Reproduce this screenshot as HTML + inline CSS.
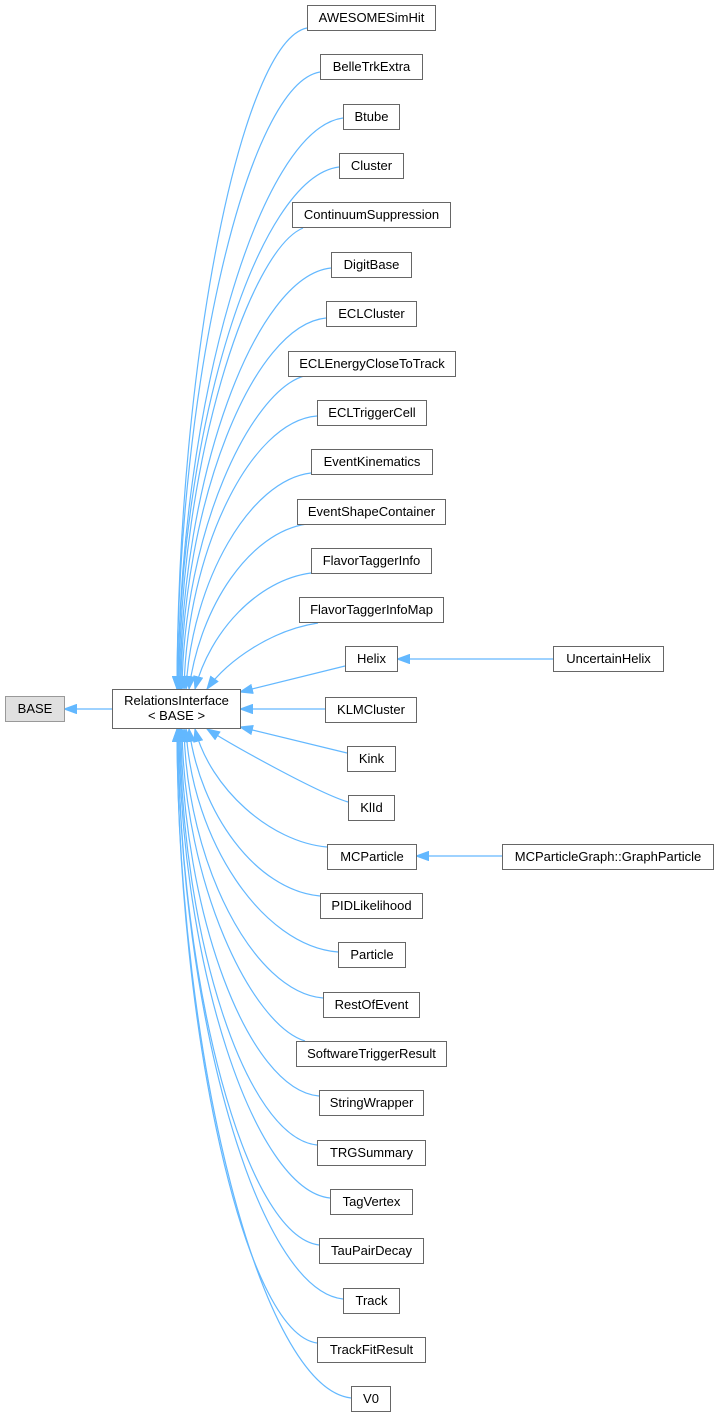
<!DOCTYPE html>
<html>
<head>
<meta charset="utf-8">
<style>
  html, body { margin: 0; padding: 0; background: #ffffff; }
  svg { display: block; }
  text { font-family: "Liberation Sans", Arial, Helvetica, sans-serif; font-size: 13px; fill: #000; }
</style>
</head>
<body>
<svg width="719" height="1417" viewBox="0 0 719 1417" xmlns="http://www.w3.org/2000/svg">
  <defs>
    <marker id="ah" markerUnits="userSpaceOnUse" markerWidth="14" markerHeight="10" viewBox="0 0 14 10" refX="13" refY="5" orient="auto">
      <path d="M0.5,0.5 L13,5 L0.5,9.5 z" fill="#63b8ff" stroke="#63b8ff" stroke-width="1"/>
    </marker>
  </defs>

  <g fill="none" stroke="#63b8ff" stroke-width="1.2" marker-end="url(#ah)">
    <!-- base -->
    <path d="M112,709 L64,709"/>
    <!-- second level -->
    <path d="M553,659 L397,659"/>
    <path d="M502,856 L416,856"/>
    <!-- straight-ish edges -->
    <path d="M345,666 L240,692"/>
    <path d="M325,709 L240,709"/>
    <path d="M347,753 L240,727"/>
    <!-- top curves -->
    <path d="M307,28 C242,41 178,358 177,689"/>
    <path d="M320,72 C248,84 178,380 177,689"/>
    <path d="M343,118 C260,129 179,403 178,689"/>
    <path d="M339,167 C258,177 179,428 178,689"/>
    <path d="M303,228 C250,250 180,458 179,689"/>
    <path d="M331,268 C255,276 181,478 180,689"/>
    <path d="M326,318 C253,325 182,503 181,689"/>
    <path d="M304,376 C250,392 184,532 182,689"/>
    <path d="M317,416 C250,421 187,552 184,689"/>
    <path d="M311,473 C250,480 192,581 186,689"/>
    <path d="M307,524 C250,532 200,606 189,689"/>
    <path d="M311,573 C258,580 210,631 195,689"/>
    <path d="M318,623 C272,630 228,660 207,689"/>
    <!-- bottom curves -->
    <path d="M348,802 C318,793 232,745 207,729"/>
    <path d="M327,847 C270,842 210,788 195,729"/>
    <path d="M320,896 C255,890 200,812 189,729"/>
    <path d="M338,952 C262,946 192,840 186,729"/>
    <path d="M323,998 C253,992 187,863 184,729"/>
    <path d="M305,1041 C252,1025 184,885 182,729"/>
    <path d="M319,1096 C248,1090 182,912 181,729"/>
    <path d="M317,1145 C246,1138 181,937 180,729"/>
    <path d="M330,1198 C254,1190 180,963 179,729"/>
    <path d="M319,1245 C246,1236 179,987 178,729"/>
    <path d="M343,1299 C258,1290 179,1014 178,729"/>
    <path d="M317,1343 C245,1333 178,1036 177,729"/>
    <path d="M351,1398 C262,1388 178,1063 177,729"/>
  </g>

  <!-- BASE -->
  <rect x="5.5" y="696.5" width="59" height="25" fill="#e0e0e0" stroke="#999999" stroke-width="1"/>
  <text x="35" y="713" text-anchor="middle">BASE</text>

  <!-- RelationsInterface -->
  <rect x="112.5" y="689.5" width="128" height="39" fill="#ffffff" stroke="#666666" stroke-width="1"/>
  <text x="176.5" y="705" text-anchor="middle">RelationsInterface</text>
  <text x="176.5" y="720" text-anchor="middle">&lt; BASE &gt;</text>

  <g fill="#ffffff" stroke="#666666" stroke-width="1">
    <rect x="307.5" y="5.5" width="128" height="25"/>
    <rect x="320.5" y="54.5" width="102" height="25"/>
    <rect x="343.5" y="104.5" width="56" height="25"/>
    <rect x="339.5" y="153.5" width="64" height="25"/>
    <rect x="292.5" y="202.5" width="158" height="25"/>
    <rect x="331.5" y="252.5" width="80" height="25"/>
    <rect x="326.5" y="301.5" width="90" height="25"/>
    <rect x="288.5" y="351.5" width="167" height="25"/>
    <rect x="317.5" y="400.5" width="109" height="25"/>
    <rect x="311.5" y="449.5" width="121" height="25"/>
    <rect x="297.5" y="499.5" width="148" height="25"/>
    <rect x="311.5" y="548.5" width="120" height="25"/>
    <rect x="299.5" y="597.5" width="144" height="25"/>
    <rect x="345.5" y="646.5" width="52" height="25"/>
    <rect x="325.5" y="697.5" width="91" height="25"/>
    <rect x="347.5" y="746.5" width="48" height="25"/>
    <rect x="348.5" y="795.5" width="46" height="25"/>
    <rect x="327.5" y="844.5" width="89" height="25"/>
    <rect x="320.5" y="893.5" width="102" height="25"/>
    <rect x="338.5" y="942.5" width="67" height="25"/>
    <rect x="323.5" y="992.5" width="96" height="25"/>
    <rect x="296.5" y="1041.5" width="150" height="25"/>
    <rect x="319.5" y="1090.5" width="104" height="25"/>
    <rect x="317.5" y="1140.5" width="108" height="25"/>
    <rect x="330.5" y="1189.5" width="82" height="25"/>
    <rect x="319.5" y="1238.5" width="104" height="25"/>
    <rect x="343.5" y="1288.5" width="56" height="25"/>
    <rect x="317.5" y="1337.5" width="108" height="25"/>
    <rect x="351.5" y="1386.5" width="39" height="25"/>
    <rect x="553.5" y="646.5" width="110" height="25"/>
    <rect x="502.5" y="844.5" width="211" height="25"/>
  </g>

  <g text-anchor="middle">
    <text x="371.5" y="22">AWESOMESimHit</text>
    <text x="371.5" y="71">BelleTrkExtra</text>
    <text x="371.5" y="121">Btube</text>
    <text x="371.5" y="170">Cluster</text>
    <text x="371.5" y="219">ContinuumSuppression</text>
    <text x="371.5" y="269">DigitBase</text>
    <text x="371.5" y="318">ECLCluster</text>
    <text x="372" y="368">ECLEnergyCloseToTrack</text>
    <text x="372" y="417">ECLTriggerCell</text>
    <text x="372" y="466">EventKinematics</text>
    <text x="371.5" y="516">EventShapeContainer</text>
    <text x="371.5" y="565">FlavorTaggerInfo</text>
    <text x="371.5" y="614">FlavorTaggerInfoMap</text>
    <text x="371.5" y="663">Helix</text>
    <text x="371" y="714">KLMCluster</text>
    <text x="371.5" y="763">Kink</text>
    <text x="371.5" y="812">KlId</text>
    <text x="372" y="861">MCParticle</text>
    <text x="371.5" y="910">PIDLikelihood</text>
    <text x="372" y="959">Particle</text>
    <text x="371.5" y="1009">RestOfEvent</text>
    <text x="371.5" y="1058">SoftwareTriggerResult</text>
    <text x="371.5" y="1107">StringWrapper</text>
    <text x="371.5" y="1157">TRGSummary</text>
    <text x="371.5" y="1206">TagVertex</text>
    <text x="371.5" y="1255">TauPairDecay</text>
    <text x="371.5" y="1305">Track</text>
    <text x="371.5" y="1354">TrackFitResult</text>
    <text x="371" y="1403">V0</text>
    <text x="608.5" y="663">UncertainHelix</text>
    <text x="608" y="861">MCParticleGraph::GraphParticle</text>
  </g>
</svg>
</body>
</html>
